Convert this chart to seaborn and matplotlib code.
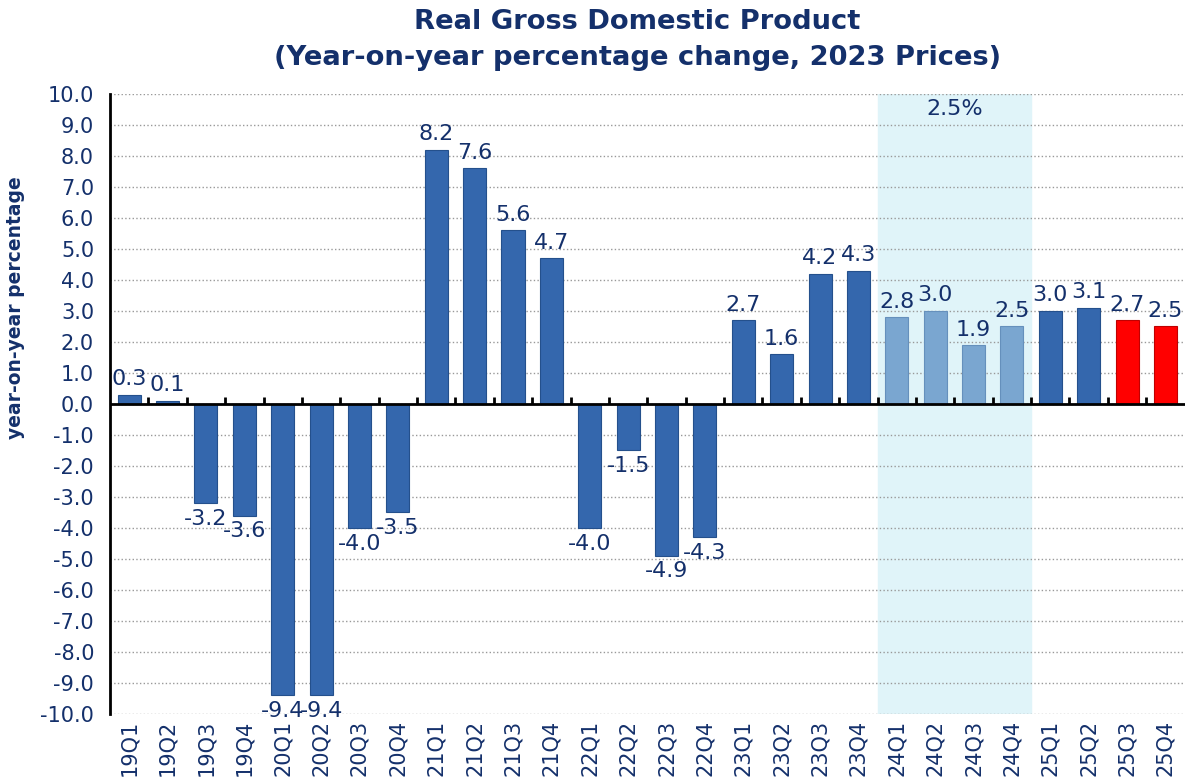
import numpy as np
import pandas as pd
import matplotlib
matplotlib.use("Agg")
import matplotlib.pyplot as plt
import seaborn as sns

quarters = ['19Q1', '19Q2', '19Q3', '19Q4', '20Q1', '20Q2', '20Q3', '20Q4',
            '21Q1', '21Q2', '21Q3', '21Q4', '22Q1', '22Q2', '22Q3', '22Q4',
            '23Q1', '23Q2', '23Q3', '23Q4', '24Q1', '24Q2', '24Q3', '24Q4',
            '25Q1', '25Q2', '25Q3', '25Q4']
growth = [0.3, 0.1, -3.2, -3.6, -9.4, -9.4, -4.0, -3.5,
          8.2, 7.6, 5.6, 4.7, -4.0, -1.5, -4.9, -4.3,
          2.7, 1.6, 4.2, 4.3, 2.8, 3.0, 1.9, 2.5,
          3.0, 3.1, 2.7, 2.5]
group = ['actual'] * 20 + ['highlight'] * 4 + ['actual'] * 2 + ['forecast'] * 2
highlight_avg = '2.5%'

navy = '#14306B'
palette = {'actual': '#3467AD', 'highlight': '#7AA6D0', 'forecast': '#FF0000'}
edges = {'actual': '#24508C', 'highlight': '#6590BC', 'forecast': '#C00000'}

df = pd.DataFrame({'quarter': quarters, 'growth': growth, 'group': group})

sns.set_style('white')
plt.rcParams['font.family'] = ['DejaVu Sans']

fig = plt.figure(figsize=(11.87, 7.83), dpi=100)
ax = fig.add_axes([0.0927, 0.0881, 0.9053, 0.7919])

# shaded 2024 block
ax.axvspan(quarters.index('24Q1') - 0.5, quarters.index('24Q4') + 0.5,
           color='#E0F4F9', zorder=0)

sns.barplot(data=df, x='quarter', y='growth', hue='group', palette=palette,
            dodge=False, width=0.6, legend=False, ax=ax, zorder=3,
            saturation=1, hue_order=['actual', 'highlight', 'forecast'])

for cont, key in zip(ax.containers, ['actual', 'highlight', 'forecast']):
    for b in cont:
        b.set_edgecolor(edges[key])
        b.set_linewidth(0.8)
    ax.bar_label(cont, fmt='%.1f', padding=4, fontsize=16, color=navy, zorder=5)

ax.set_ylim(-10, 10)
ax.set_xlim(-0.5, len(quarters) - 0.5)
ax.set_yticks(np.arange(-10, 11, 1))
ax.set_yticklabels([f'{v:.1f}' for v in np.arange(-10, 11, 1)])
ax.yaxis.grid(True, linestyle=':', color='#999999', linewidth=1)
ax.set_axisbelow(True)

# zero line with category separators
ax.axhline(0, color='black', linewidth=2, zorder=4)
ax.vlines(np.arange(0.5, len(quarters) - 0.5), 0, 0.22, color='black',
          linewidth=2, zorder=4)

for s in ['top', 'right', 'bottom']:
    ax.spines[s].set_visible(False)
ax.spines['left'].set_linewidth(2)
ax.spines['left'].set_color('black')

ax.tick_params(axis='y', direction='inout', length=11, width=2, color='black',
               labelsize=15, labelcolor=navy, pad=6)
ax.tick_params(axis='x', length=0, labelsize=15, labelcolor=navy, pad=4,
               rotation=90)

ax.set_xlabel('')
ax.set_ylabel('year-on-year percentage', fontsize=13.5, fontweight='bold',
              color=navy)
ax.yaxis.set_label_coords(-0.079, 0.655)

ax.text(quarters.index('24Q2') + 0.5, 9.5, highlight_avg, ha='center',
        va='center', fontsize=16, color=navy)

fig.text(0.537, 0.972, 'Real Gross Domestic Product', ha='center', va='center',
         fontsize=19.7, fontweight='bold', color=navy)
fig.text(0.537, 0.926, '(Year-on-year percentage change, 2023 Prices)',
         ha='center', va='center', fontsize=19.7, fontweight='bold', color=navy)

fig.savefig('out.png', dpi=100)
